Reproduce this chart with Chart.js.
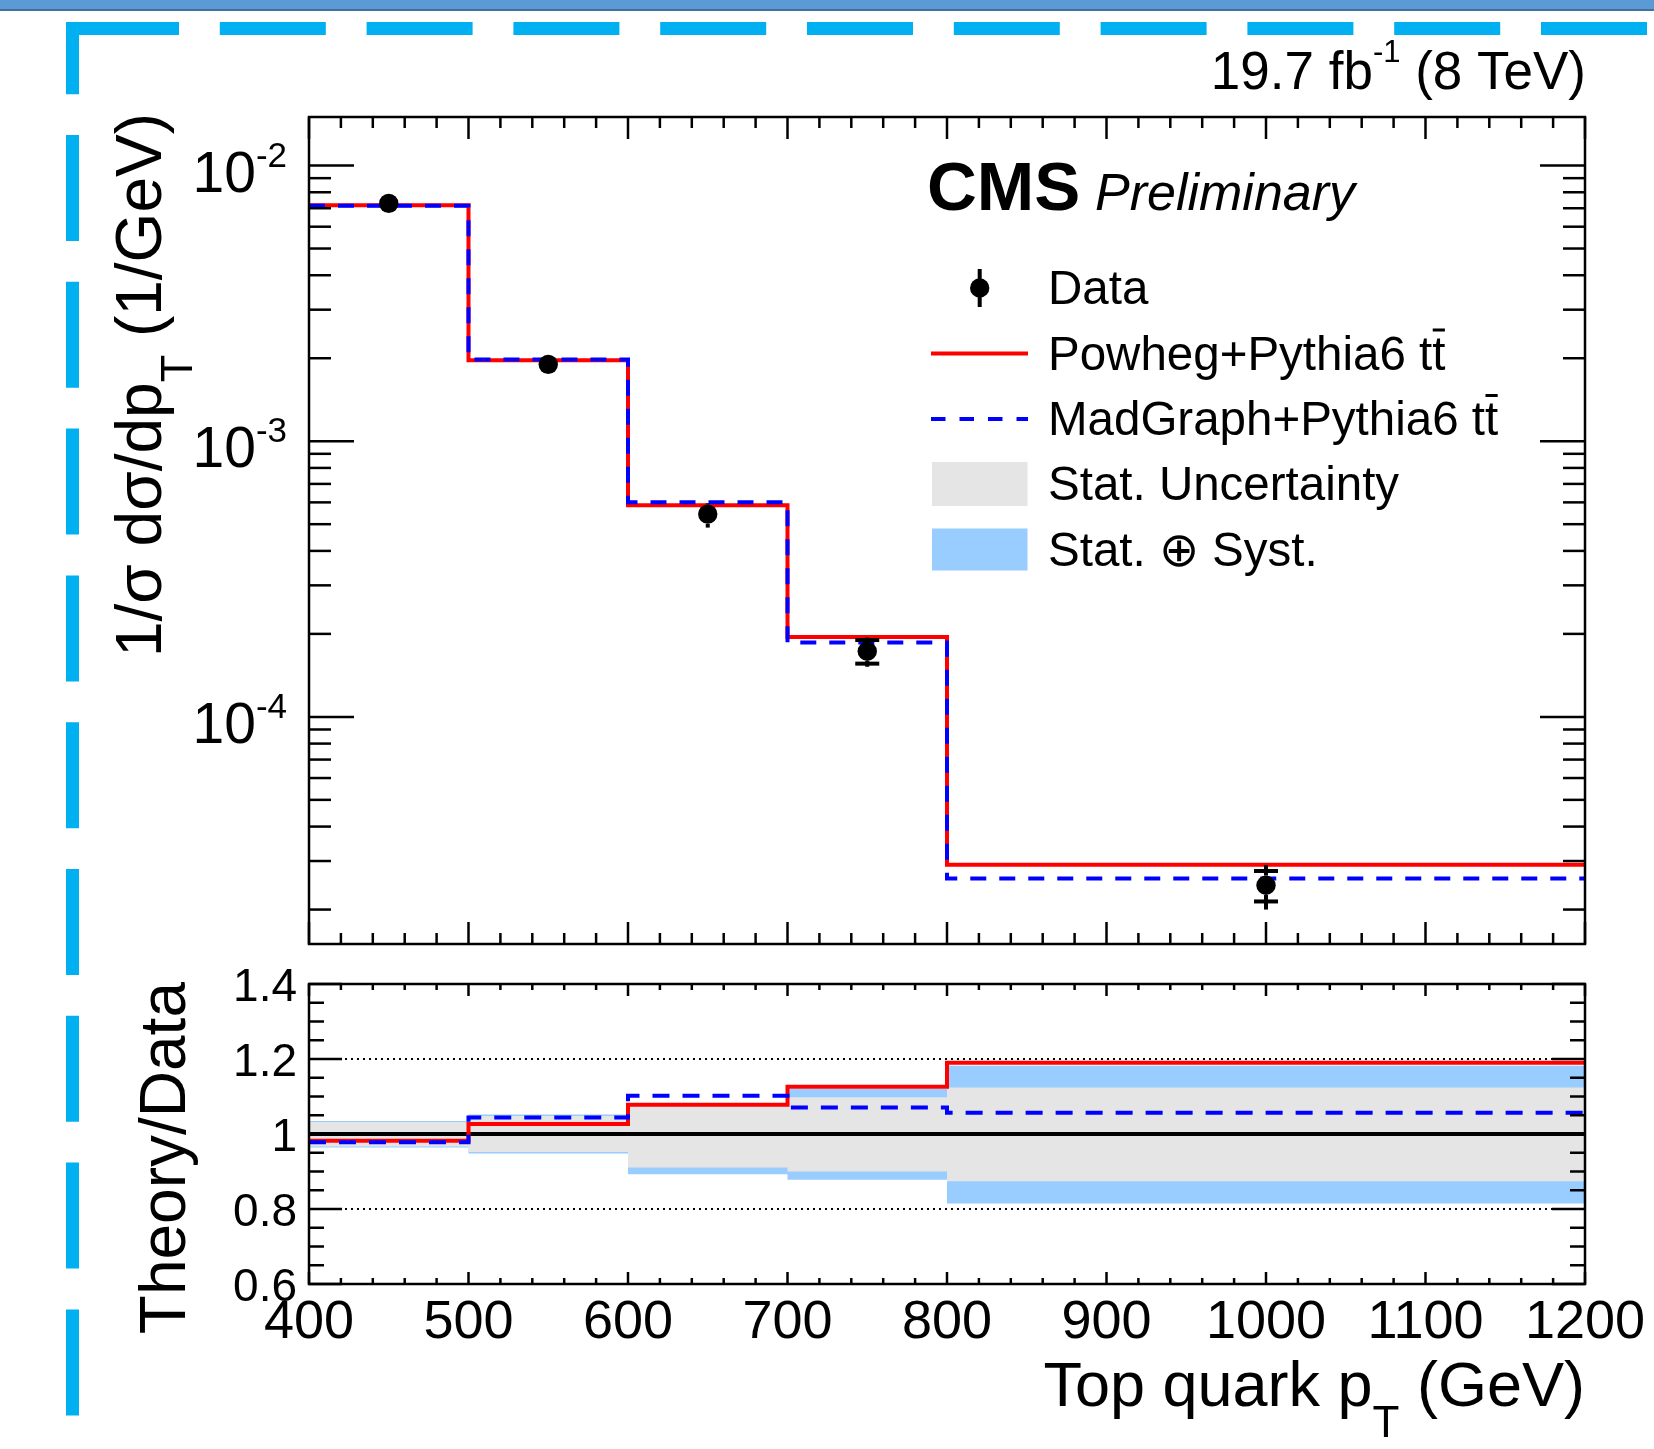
<!DOCTYPE html>
<html lang="en">
<head>
<meta charset="UTF-8">
<title>Top quark pT - normalised cross section</title>
<script src="https://cdn.jsdelivr.net/npm/chart.js"></script>
<style>
  html, body { margin: 0; padding: 0; background: #fff; }
  #page { position: relative; width: 1654px; height: 1449px; overflow: hidden; }
  #page canvas { position: absolute; left: 0; top: 0; }
</style>
</head>
<body>
<div id="page">
  <canvas id="spectrumChart" width="1654" height="1449"></canvas>
  <canvas id="ratioChart" width="1654" height="1449"></canvas>
</div>
<script>
// ---- values ----
const binEdges = [400, 500, 600, 700, 800, 1200];
const powheg   = [7.18e-3, 1.966e-3, 5.86e-4, 1.95e-4, 2.91e-5];
const madgraph = [7.14e-3, 1.98e-3, 6.00e-4, 1.86e-4, 2.59e-5];

const dataX      = [450, 550, 650, 750, 1000];
const dataY      = [7.29e-3, 1.90e-3, 5.44e-4, 1.73e-4, 2.45e-5];
const dataStatHi = [7.52e-3, 1.99e-3, 5.90e-4, 1.90e-4, 2.76e-5];
const dataStatLo = [7.05e-3, 1.81e-3, 5.00e-4, 1.56e-4, 2.14e-5];
const dataTotHi  = [7.54e-3, 2.00e-3, 5.95e-4, 1.94e-4, 2.90e-5];
const dataTotLo  = [7.03e-3, 1.80e-3, 4.86e-4, 1.52e-4, 2.00e-5];

const ratioPowheg   = [0.982, 1.027, 1.078, 1.126, 1.190];
const ratioMadgraph = [0.978, 1.044, 1.102, 1.071, 1.057];
const bandStatHi = [1.032, 1.048, 1.075, 1.098, 1.124];
const bandStatLo = [0.967, 0.952, 0.911, 0.900, 0.874];
const bandTotHi  = [1.035, 1.052, 1.077, 1.120, 1.182];
const bandTotLo  = [0.964, 0.948, 0.893, 0.878, 0.815];
const refLevels = [0.8, 1.2];
const unityLevel = 1;

const xTickValues = [400, 500, 600, 700, 800, 900, 1000, 1100, 1200];
const xTickLabels = ['400', '500', '600', '700', '800', '900', '1000', '1100', '1200'];
const yTickValues = [1e-2, 1e-3, 1e-4];
const yTickExp    = ['-2', '-3', '-4'];
const ratioTickValues = [1.4, 1.2, 1.0, 0.8, 0.6];
const ratioTickLabels = ['1.4', '1.2', '1', '0.8', '0.6'];
const legendLabels = ['Data', 'Powheg+Pythia6 tt', 'MadGraph+Pythia6 tt', 'Stat. Uncertainty', 'Stat. \u2295 Syst.'];

// ---- layout ----
const W = 1654, H = 1449;
const mainFrame  = { left: 309, top: 117, right: 1585, bottom: 944 };
const ratioFrame = { left: 309, top: 984, right: 1585, bottom: 1284 };
const FONT = '"Liberation Sans", Arial, Helvetica, sans-serif';
const RED = '#ff0000', BLUE = '#0000ff';

function setFont(ctx, size, style) {
    ctx.font = (style ? style + ' ' : '') + size + 'px ' + FONT;
}

// text made of pieces with their own size / vertical shift (super- and subscripts)
function richText(ctx, parts, x, y, align) {
    let w = 0;
    parts.forEach(p => { setFont(ctx, p.size, p.style); w += ctx.measureText(p.text).width; });
    let cx = align === 'right' ? x - w : (align === 'center' ? x - w / 2 : x);
    ctx.textAlign = 'left';
    ctx.textBaseline = 'alphabetic';
    parts.forEach(p => {
        setFont(ctx, p.size, p.style);
        ctx.fillText(p.text, cx, y + (p.dy || 0));
        cx += ctx.measureText(p.text).width;
    });
    return cx;
}

function seg(ctx, x1, y1, x2, y2) {
    ctx.beginPath(); ctx.moveTo(x1, y1); ctx.lineTo(x2, y2); ctx.stroke();
}

// histogram outline: one point per bin edge, value of the bin that starts there
// (last edge repeats the last bin)
function stepPoints(values) {
    return binEdges.map((e, i) => ({ x: e, y: values[Math.min(i, values.length - 1)] }));
}

function flatLine(level) {
    return [{ x: binEdges[0], y: level }, { x: binEdges[binEdges.length - 1], y: level }];
}

function paddingFor(f) {
    return { left: f.left, top: f.top, right: W - f.right, bottom: H - f.bottom };
}

// x ticks (ROOT style, inside the frame, top and bottom)
function drawXTicks(ctx, xs, area, majorLen, minorLen) {
    const first = xTickValues[0], last = xTickValues[xTickValues.length - 1];
    for (let v = first; v <= last; v += 20) {
        const px = xs.getPixelForValue(v);
        const len = (v % 100 === 0) ? majorLen : minorLen;
        seg(ctx, px, area.bottom, px, area.bottom - len);
        seg(ctx, px, area.top, px, area.top + len);
    }
}

function drawFrame(ctx, area) {
    ctx.lineWidth = 2.5;
    ctx.strokeStyle = '#000';
    ctx.strokeRect(area.left, area.top, area.right - area.left, area.bottom - area.top);
}

// ---- page decoration + texts of the upper pad ----
const pagePlugin = {
    id: 'pageDecor',
    beforeDraw(chart) {
        const ctx = chart.ctx;
        ctx.save();
        ctx.fillStyle = '#5b9bd5';
        ctx.fillRect(0, 0, W, 9);
        ctx.fillStyle = '#41719c';
        ctx.fillRect(0, 9, W, 2);
        ctx.strokeStyle = '#00b0f0';
        ctx.lineWidth = 13;
        ctx.setLineDash([106, 40.8]);
        ctx.lineDashOffset = 0;
        seg(ctx, 73, 28.5, W, 28.5);
        ctx.lineDashOffset = 33.8;
        seg(ctx, 72.5, 22, 72.5, H);
        ctx.restore();
    }
};

const errorBarPlugin = {
    id: 'errorBars',
    afterDatasetsDraw(chart) {
        const ctx = chart.ctx, xs = chart.scales.x, ys = chart.scales.y;
        const r = 9.7;
        ctx.save();
        ctx.strokeStyle = '#000';
        ctx.lineWidth = 4;
        dataX.forEach((xv, i) => {
            const px = xs.getPixelForValue(xv);
            const py = ys.getPixelForValue(dataY[i]);
            const tHi = ys.getPixelForValue(dataTotHi[i]);
            const tLo = ys.getPixelForValue(dataTotLo[i]);
            const sHi = ys.getPixelForValue(dataStatHi[i]);
            const sLo = ys.getPixelForValue(dataStatLo[i]);
            if (py - tHi > r) seg(ctx, px, py - r, px, tHi);
            if (tLo - py > r) seg(ctx, px, py + r, px, tLo);
            // caps only where the bar leaves the marker
            if (py - sHi > r + 1.2) seg(ctx, px - 12, sHi, px + 12, sHi);
            if (sLo - py > r + 1.2) seg(ctx, px - 12, sLo, px + 12, sLo);
        });
        ctx.restore();
    }
};

const mainAxesPlugin = {
    id: 'mainAxes',
    afterDraw(chart) {
        const ctx = chart.ctx, a = chart.chartArea;
        const xs = chart.scales.x, ys = chart.scales.y;
        ctx.save();
        ctx.strokeStyle = '#000';
        ctx.lineWidth = 2.5;
        drawXTicks(ctx, xs, a, 22, 11);
        // log y ticks
        for (let e = -5; e <= -2; e++) {
            for (let m = 1; m <= 9; m++) {
                const v = m * Math.pow(10, e);
                if (v < ys.min || v > ys.max) continue;
                const py = ys.getPixelForValue(v);
                const len = m === 1 ? 45 : 22;
                seg(ctx, a.left, py, a.left + len, py);
                seg(ctx, a.right, py, a.right - len, py);
            }
        }
        drawFrame(ctx, a);

        ctx.fillStyle = '#000';
        yTickValues.forEach((v, i) => {
            const py = ys.getPixelForValue(v);
            richText(ctx, [{ text: '10', size: 57 }, { text: yTickExp[i], size: 35, dy: -25 }], 287, py + 26, 'right');
        });

        // y title (rotated)
        ctx.save();
        ctx.translate(161, 113);
        ctx.rotate(-Math.PI / 2);
        richText(ctx, [
            { text: '1/\u03c3 d\u03c3/dp', size: 64 },
            { text: 'T', size: 45, dy: 31 },
            { text: ' (1/GeV)', size: 64 }
        ], 0, 0, 'right');
        ctx.restore();

        // luminosity label
        richText(ctx, [
            { text: '19.7 fb', size: 53 },
            { text: '-1', size: 31, dy: -27 },
            { text: ' (8 TeV)', size: 53 }
        ], 1586, 89, 'right');

        // CMS Preliminary
        setFont(ctx, 69, 'bold');
        ctx.textAlign = 'left';
        ctx.fillText('CMS', 927, 210);
        setFont(ctx, 52, 'italic');
        ctx.fillText('Preliminary', 1095, 210);

        // legend
        const rows = [288, 353.5, 419, 484, 549.5];
        const sx0 = 931, sx1 = 1028, tx = 1048;
        ctx.lineWidth = 4;
        seg(ctx, 979.7, rows[0] - 19, 979.7, rows[0] + 19);
        ctx.beginPath(); ctx.arc(979.7, rows[0], 9.7, 0, Math.PI * 2); ctx.fill();
        ctx.strokeStyle = RED;
        seg(ctx, sx0, rows[1], sx1, rows[1]);
        ctx.strokeStyle = BLUE;
        ctx.setLineDash([14.5, 14]);
        seg(ctx, sx0, rows[2], sx1, rows[2]);
        ctx.setLineDash([]);
        ctx.fillStyle = '#e5e5e5';
        ctx.fillRect(932, rows[3] - 22, 95.5, 44);
        ctx.fillStyle = '#99ccff';
        ctx.fillRect(932, rows[4] - 21, 95.5, 42);
        ctx.fillStyle = '#000';
        legendLabels.forEach((lab, i) => {
            const end = richText(ctx, [{ text: lab, size: 47.5 }], tx, rows[i] + 16, 'left');
            if (i === 1 || i === 2) {
                // bar over the second t (anti-top)
                setFont(ctx, 47.5);
                const tw = ctx.measureText('t').width;
                ctx.fillRect(end - tw + 0.5, rows[i] + 16 - 41, tw - 1, 3);
            }
        });
        ctx.restore();
    }
};

const ratioAxesPlugin = {
    id: 'ratioAxes',
    afterDraw(chart) {
        const ctx = chart.ctx, a = chart.chartArea;
        const xs = chart.scales.x, ys = chart.scales.y;
        ctx.save();
        ctx.strokeStyle = '#000';
        ctx.lineWidth = 2.5;
        drawXTicks(ctx, xs, a, 12, 6);
        for (let k = 0; k <= 16; k++) {
            const v = 0.6 + 0.05 * k;
            const py = ys.getPixelForValue(v);
            const len = (k % 4 === 0) ? 33 : 15;
            seg(ctx, a.left, py, a.left + len, py);
            seg(ctx, a.right, py, a.right - len, py);
        }
        drawFrame(ctx, a);

        ctx.fillStyle = '#000';
        ratioTickValues.forEach((v, i) => {
            richText(ctx, [{ text: ratioTickLabels[i], size: 46 }], 297, ys.getPixelForValue(v) + 16.5, 'right');
        });
        xTickValues.forEach((v, i) => {
            richText(ctx, [{ text: xTickLabels[i], size: 54 }], xs.getPixelForValue(v), 1338, 'center');
        });
        richText(ctx, [
            { text: 'Top quark p', size: 63 },
            { text: 'T', size: 44, dy: 31 },
            { text: ' (GeV)', size: 63 }
        ], 1585, 1406, 'right');

        ctx.save();
        ctx.translate(185, 982);
        ctx.rotate(-Math.PI / 2);
        richText(ctx, [{ text: 'Theory/Data', size: 64 }], 0, 0, 'right');
        ctx.restore();
        ctx.restore();
    }
};

function stepDataset(values, color, dash, order) {
    return {
        data: stepPoints(values),
        stepped: 'before',
        borderColor: color,
        borderWidth: 4,
        borderDash: dash,
        borderCapStyle: 'butt',
        pointRadius: 0,
        fill: false,
        order: order
    };
}

const baseOptions = (frame) => ({
    responsive: false,
    animation: false,
    devicePixelRatio: 1,
    events: [],
    layout: { padding: paddingFor(frame) },
    plugins: { legend: { display: false }, tooltip: { enabled: false } }
});

// ---- upper pad ----
new Chart(document.getElementById('spectrumChart'), {
    type: 'line',
    data: {
        datasets: [
            {
                data: dataX.map((x, i) => ({ x: x, y: dataY[i] })),
                showLine: false,
                pointRadius: 9.7,
                pointBackgroundColor: '#000',
                pointBorderWidth: 0,
                order: 1
            },
            stepDataset(madgraph, BLUE, [16, 13], 2),
            stepDataset(powheg, RED, [], 3)
        ]
    },
    options: Object.assign(baseOptions(mainFrame), {
        scales: {
            x: { type: 'linear', min: 400, max: 1200, display: false },
            y: { type: 'logarithmic', min: 1.5e-5, max: 1.5e-2, display: false }
        }
    }),
    plugins: [pagePlugin, errorBarPlugin, mainAxesPlugin]
});

// ---- ratio pad ----
function bandDataset(values, fillColor, fillTo, order) {
    return {
        data: stepPoints(values),
        stepped: 'before',
        borderColor: 'rgba(0,0,0,0)',
        borderWidth: 1,
        pointRadius: 0,
        backgroundColor: fillColor,
        fill: fillTo,
        order: order
    };
}

new Chart(document.getElementById('ratioChart'), {
    type: 'line',
    data: {
        datasets: [
            bandDataset(bandTotHi, '#99ccff', '+1', 20),
            bandDataset(bandTotLo, '#99ccff', false, 19),
            bandDataset(bandStatHi, '#e5e5e5', '+1', 18),
            bandDataset(bandStatLo, '#e5e5e5', false, 17),
            ...refLevels.map(l => ({
                data: flatLine(l), borderColor: '#000', borderWidth: 2,
                borderDash: [2, 4], pointRadius: 0, fill: false, order: 10
            })),
            {
                data: flatLine(unityLevel), borderColor: '#000', borderWidth: 4,
                pointRadius: 0, fill: false, order: 5
            },
            stepDataset(ratioPowheg, RED, [], 3),
            stepDataset(ratioMadgraph, BLUE, [17, 13], 2)
        ]
    },
    options: Object.assign(baseOptions(ratioFrame), {
        scales: {
            x: { type: 'linear', min: 400, max: 1200, display: false },
            y: { type: 'linear', min: 0.6, max: 1.4, display: false }
        }
    }),
    plugins: [ratioAxesPlugin]
});
</script>
</body>
</html>
